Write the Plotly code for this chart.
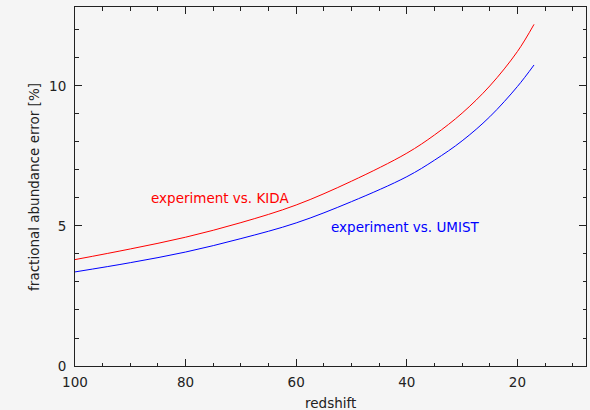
import plotly.graph_objects as go

redshift = [100, 90, 80, 70, 60, 50, 40, 35, 30, 25, 20, 17]
kida_err = [3.80, 4.18, 4.60, 5.12, 5.75, 6.60, 7.60, 8.25, 9.03, 10.0, 11.23, 12.2]
umist_err = [3.36, 3.69, 4.07, 4.55, 5.11, 5.87, 6.76, 7.35, 8.04, 8.9, 9.98, 10.75]

x_ticks = [100, 80, 60, 40, 20]
y_ticks = [0, 5, 10]

font = "DejaVu Sans"
fs = 13.5
fig = go.Figure()
fig.add_trace(go.Scatter(x=redshift, y=kida_err, mode="lines",
                         line=dict(color="#ff0000", width=1, shape="spline"), showlegend=False))
fig.add_trace(go.Scatter(x=redshift, y=umist_err, mode="lines",
                         line=dict(color="#0000ff", width=1, shape="spline"), showlegend=False))

axis_common = dict(showgrid=False, zeroline=False, showline=True, linecolor="#222", linewidth=1,
                   mirror="ticks", ticks="inside", ticklen=7, tickwidth=1, tickcolor="#222",
                   tickfont=dict(family=font, size=fs, color="#222"))
fig.update_xaxes(range=[100, 7.6], tickvals=x_ticks, ticktext=[str(v) for v in x_ticks],
                 ticklabelstandoff=4,
                 minor=dict(dtick=5, tick0=0, ticks="inside", ticklen=3.5, tickcolor="#222", tickwidth=1),
                 **axis_common)
fig.update_yaxes(range=[0, 12.82], tickvals=y_ticks, ticktext=[str(v) for v in y_ticks],
                 ticklabelstandoff=5,
                 minor=dict(dtick=1, tick0=0, ticks="inside", ticklen=3.5, tickcolor="#222", tickwidth=1),
                 **axis_common)

fig.add_annotation(x=73.7, y=6.0, text="experiment vs. KIDA", showarrow=False,
                   font=dict(family=font, size=fs, color="#ff0000"))
fig.add_annotation(x=40.3, y=4.96, text="experiment vs. UMIST", showarrow=False,
                   font=dict(family=font, size=fs, color="#0000ff"))
fig.add_annotation(x=0.5, xref="paper", y=-(403 - 365.7) / 358.4, yref="paper", yanchor="middle",
                   text="redshift", showarrow=False,
                   font=dict(family=font, size=fs, color="#222"))
fig.add_annotation(x=-(74.6 - 33) / 511.1, xref="paper", xanchor="center", y=0.5, yref="paper",
                   text="fractional abundance error [%]",
                   textangle=-90, showarrow=False, font=dict(family=font, size=fs, color="#222"))

fig.update_layout(width=590, height=410, margin=dict(l=74.6, r=4.3, t=7.3, b=44.3),
                  paper_bgcolor="#f5f5f5", plot_bgcolor="#f5f5f5", showlegend=False)
fig.write_html("out.html")
